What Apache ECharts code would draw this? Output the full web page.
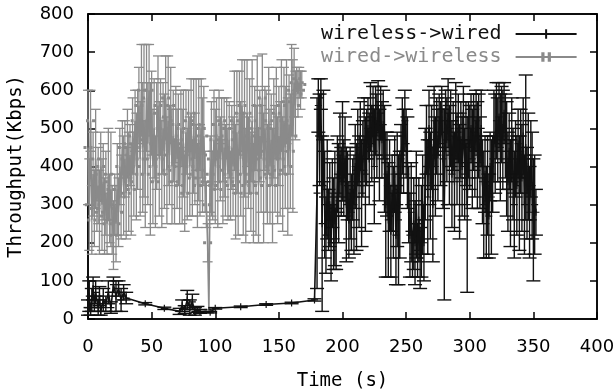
<!DOCTYPE html>
<html>
<head>
<meta charset="utf-8">
<script src="https://cdn.jsdelivr.net/npm/echarts@6/dist/echarts.min.js"></script>
<style>html,body{margin:0;padding:0;background:#fff}#c{width:613px;height:391px}</style>
</head>
<body>
<div id="c"></div>
<script>
// wired->wireless (gray): time (s), mean throughput, error half-width (Kbps)
const wdTime = [0,1,2,3,4,5,6,7,8,9,10,11,12,13,14,15,16,17,18,19,20,21,22,23,24,25,26,27,28,29,
  30,31,32,33,34,35,36,37,38,39,40,41,42,43,44,45,46,47,48,49,50,51,52,53,54,55,56,57,58,59,
  60,61,62,63,64,65,66,67,68,69,70,71,72,73,74,75,76,77,78,79,80,81,82,83,84,85,86,87,88,89,
  90,91,92,93,94,95,96,97,98,99,100,101,102,103,104,105,106,107,108,109,110,111,112,113,114,115,116,117,118,119,
  120,121,122,123,124,125,126,127,128,129,130,131,132,133,134,135,136,137,138,139,140,141,142,143,144,145,146,147,148,149,
  150,151,152,153,154,155,156,157,158,159,160,161,162,163,164,165,166,167,168];
const wdMean = [
  450,300,520,260,380,290,420,310,350,280,
  400,300,360,270,330,250,380,290,340,260,
  220,300,250,340,280,400,320,450,350,420,
  330,460,360,430,340,480,380,520,400,470,
  560,420,600,450,520,380,580,460,600,420,
  540,400,500,360,480,560,420,530,380,500,
  440,580,390,520,430,560,400,480,360,510,
  420,470,350,500,400,460,330,490,380,520,
  400,540,370,480,420,510,350,470,390,500,
  430,480,360,300,200,20,380,420,350,470,
  400,510,340,480,420,520,360,450,390,500,
  380,470,350,450,400,520,360,490,330,540,
  420,560,380,500,350,540,410,480,360,520,
  330,500,390,560,350,480,420,580,370,500,
  440,380,520,400,470,350,500,420,540,390,
  480,420,560,380,520,450,570,400,510,440,
  600,480,620,560,630,590,620,600,615];
const wdDev = [
  150,120,80,90,110,100,130,80,100,110,
  90,120,100,100,110,80,120,90,150,90,
  90,80,100,120,90,100,110,70,130,100,
  120,90,130,80,120,100,110,80,140,130,
  100,150,120,170,200,140,140,160,120,200,
  110,150,130,120,140,130,150,100,140,120,
  150,110,140,170,130,100,150,120,110,100,
  130,120,100,100,150,140,100,110,120,80,
  130,90,100,150,120,120,110,160,120,130,
  150,130,80,60,50,5,100,150,90,130,
  150,70,100,120,110,60,110,130,120,80,
  120,100,90,110,130,130,150,160,110,110,
  150,120,160,180,150,140,120,150,130,160,
  130,110,170,130,150,120,140,115,170,110,
  160,130,140,150,120,150,130,140,120,140,
  130,150,120,150,140,160,110,180,130,150,
  120,200,90,90,30,60,40,50,35];

// wireless->wired (black)
const wlTime = [0,1,2,3,4,5,6,8,9,10,12,14,16,18,20,22,24,26,28,30,45,60,72,74,76,78,80,82,84,86,88,96,100,120,140,160,178,
  180,181,182,183,184,185,186,187,188,189,190,191,192,193,194,195,196,197,198,199,
  200,201,202,203,204,205,206,207,208,209,210,211,212,213,214,215,216,217,218,219,
  220,221,222,223,224,225,226,227,228,229,230,231,232,233,234,235,236,237,238,239,
  240,241,242,243,244,245,246,247,248,249,250,251,252,253,254,255,256,257,258,259,
  260,261,262,263,264,265,266,267,268,269,270,271,272,273,274,275,276,277,278,279,
  280,281,282,283,284,285,286,287,288,289,290,291,292,293,294,295,296,297,298,299,
  300,301,302,303,304,305,306,307,308,309,310,311,312,313,314,315,316,317,318,319,
  320,321,322,323,324,325,326,327,328,329,330,331,332,333,334,335,336,337,338,339,
  340,341,342,343,344,345,346,347,348,349,350,351,352];
const wlMean = [30,60,20,50,80,40,70,30,60,20,
  50,40,70,30,90,60,80,50,70,55,
  40,28,
  20,35,25,50,30,45,20,25,20,
  18,28,32,38,42,50,
  330,560,470,590,250,480,300,220,340,260,
  300,200,330,250,290,210,380,330,430,360,
  440,370,420,300,350,260,330,280,340,300,
  400,320,450,360,480,330,420,470,380,450,
  500,420,530,460,550,400,520,480,560,430,
  540,470,510,420,300,380,260,350,230,330,
  280,380,220,340,260,300,420,480,440,520,
  460,410,300,220,280,170,250,200,300,180,
  260,160,230,300,200,380,470,320,500,350,
  450,300,520,400,480,430,520,460,550,420,
  300,520,470,540,430,500,380,480,360,520,
  420,500,360,470,400,540,380,460,300,470,
  450,500,420,490,440,520,430,480,410,500,
  360,300,380,280,350,270,400,320,380,480,
  460,520,470,530,450,510,470,540,480,420,
  360,440,330,470,380,300,420,350,460,330,
  440,370,480,300,450,330,400,280,420,350,
  260,300,280];
const wlDev = [20,40,10,30,30,20,30,20,25,10,
  30,20,30,15,20,40,20,30,20,15,
  3,3,
  8,15,10,25,20,20,10,8,5,
  2,2,2,2,2,3,
  250,70,120,40,230,120,140,100,130,80,
  110,100,90,120,150,80,100,130,110,90,
  130,100,110,150,90,100,120,100,80,130,
  110,140,100,120,90,140,100,110,150,100,
  80,120,90,100,60,150,90,110,65,120,
  70,100,90,140,190,110,150,120,120,100,
  120,100,130,150,170,140,90,100,110,80,
  90,120,100,110,130,60,120,110,140,70,
  110,80,120,130,100,120,90,150,100,140,
  110,150,90,130,100,120,70,110,60,130,
  250,80,110,90,130,100,140,90,130,100,
  120,90,150,100,130,70,120,110,230,100,
  110,90,130,100,120,80,140,110,120,100,
  110,140,100,120,130,110,90,150,100,120,
  130,100,110,90,140,100,130,80,110,150,
  130,100,140,110,120,140,100,130,90,150,
  110,140,100,130,190,120,140,120,100,140,
  160,130,60];

const xTicks = {min: 0, max: 400, interval: 50};
const yTicks = {min: 0, max: 800, interval: 100};

const GRAY = '#8a8a8a', BLACK = '#111';

function lineData(t, m) { return t.map((x, i) => [x, m[i]]); }
function errData(t, m, d) { return t.map((x, i) => [x, Math.max(0, m[i] - d[i]), m[i] + d[i]]); }

function errRenderer(color, hw, lw) {
  return function (params, api) {
    const x = api.value(0), lo = api.value(1), hi = api.value(2);
    const a = api.coord([x, hi]), b = api.coord([x, lo]);
    const st = {stroke: color, lineWidth: lw};
    return {type: 'group', children: [
      {type: 'line', shape: {x1: a[0], y1: a[1], x2: b[0], y2: b[1]}, style: st},
      {type: 'line', shape: {x1: a[0] - hw, y1: a[1], x2: a[0] + hw, y2: a[1]}, style: st},
      {type: 'line', shape: {x1: b[0] - hw, y1: b[1], x2: b[0] + hw, y2: b[1]}, style: st}
    ]};
  };
}

const tickFont = {fontFamily: 'DejaVu Sans', fontSize: 18, color: '#000'};
const mono = 'DejaVu Sans Mono';
const axisLine = {show: true, onZero: false, lineStyle: {color: '#000', width: 1.5}};
const axisTick = {show: true, inside: true, length: 7, lineStyle: {color: '#000', width: 1.5}};

const chart = echarts.init(document.getElementById('c'), null, {renderer: 'canvas'});
chart.setOption({
  animation: false,
  backgroundColor: '#fff',
  grid: {left: 88, right: 16, top: 14, bottom: 72, containLabel: false, outerBoundsMode: 'none',
    show: true, borderColor: '#000', borderWidth: 1.5, backgroundColor: 'transparent'},
  legend: {
    orient: 'vertical', left: 316, top: 19, align: 'right',
    itemWidth: 61, itemHeight: 12, itemGap: 3,
    textStyle: {fontFamily: mono, fontSize: 20, lineHeight: 20, padding: [0, 9, 0, 0]},
    data: [
      {name: 'wireless->wired', textStyle: {color: '#111'}},
      {name: 'wired->wireless', textStyle: {color: GRAY}}
    ]
  },
  xAxis: [
    Object.assign({type: 'value', position: 'bottom', splitLine: {show: false},
      axisLine, axisTick, axisLabel: Object.assign({margin: 19}, tickFont),
      name: 'Time (s)', nameLocation: 'middle', nameGap: 53,
      nameTextStyle: {fontFamily: mono, fontSize: 19, color: '#000'}}, xTicks),
    Object.assign({type: 'value', position: 'top', splitLine: {show: false},
      axisLine, axisTick, axisLabel: {show: false}}, xTicks)
  ],
  yAxis: [
    Object.assign({type: 'value', position: 'left', splitLine: {show: false},
      axisLine, axisTick, axisLabel: Object.assign({margin: 14}, tickFont),
      name: 'Throughput(Kbps)', nameLocation: 'middle', nameGap: 62,
      nameTextStyle: {fontFamily: mono, fontSize: 19, color: '#000'}}, yTicks),
    Object.assign({type: 'value', position: 'right', splitLine: {show: false},
      axisLine, axisTick, axisLabel: {show: false}}, yTicks)
  ],
  series: [
    {
      type: 'custom', name: 'wd-err', z: 2, silent: true,
      renderItem: errRenderer(GRAY, 5, 1.3),
      encode: {x: 0, y: [1, 2]},
      data: errData(wdTime, wdMean, wdDev)
    },
    {
      type: 'line', name: 'wired->wireless', z: 3,
      data: lineData(wdTime, wdMean),
      color: GRAY,
      lineStyle: {color: GRAY, width: 1.6},
      symbol: 'path://M0,0H3V3H0ZM6,0H9V3H6Z', symbolSize: [9, 3],
      itemStyle: {color: GRAY, borderColor: GRAY, borderWidth: 0},
      emphasis: {disabled: true}
    },
    {
      type: 'custom', name: 'wl-err', z: 4, silent: true,
      renderItem: errRenderer(BLACK, 7, 1.4),
      encode: {x: 0, y: [1, 2]},
      data: errData(wlTime, wlMean, wlDev)
    },
    {
      type: 'line', name: 'wireless->wired', z: 5,
      data: lineData(wlTime, wlMean),
      color: BLACK,
      lineStyle: {color: BLACK, width: 1.6},
      symbol: 'path://M0,5H10M5,0V10', symbolSize: 7,
      itemStyle: {color: BLACK, borderColor: BLACK, borderWidth: 1.2},
      emphasis: {disabled: true}
    }
  ]
});
</script>
</body>
</html>
